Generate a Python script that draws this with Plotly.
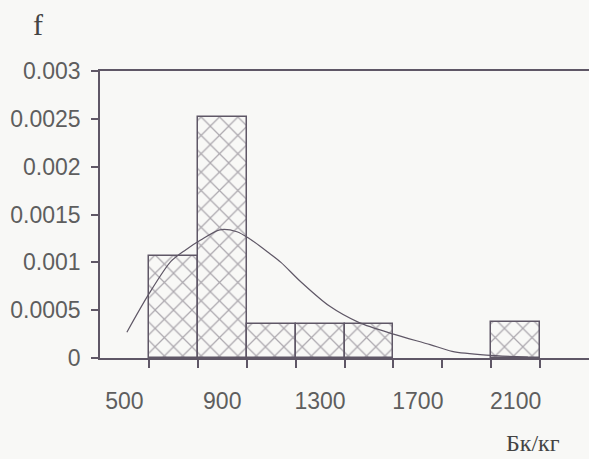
import plotly.graph_objects as go

# Histogram bins (Bq/kg, bin centres) and frequency density
bin_centers = [700, 900, 1100, 1300, 1500, 2100]
bin_values = [0.00107, 0.00252, 0.00036, 0.00036, 0.00036, 0.00038]

# Fitted density curve
curve_x = [510, 600, 690, 750, 810, 890, 960, 1010, 1090, 1140, 1220, 1340,
           1460, 1600, 1750, 1840, 1980, 2150]
curve_y = [0.00027, 0.00067, 0.00101, 0.00113, 0.00123, 0.00134, 0.00132,
           0.00125, 0.00110, 0.00100, 0.00080, 0.00054, 0.00037, 0.00025,
           0.00014, 0.00007, 0.00003, 0.00001]

x_tick_vals = [500, 900, 1300, 1700, 2100]
x_tick_text = ["500", "900", "1300", "1700", "2100"]
x_minor_ticks = [600, 800, 1000, 1200, 1400, 1600, 1800, 2000, 2200]
y_tick_vals = [0, 0.0005, 0.001, 0.0015, 0.002, 0.0025, 0.003]
y_tick_text = ["0", "0.0005", "0.001", "0.0015", "0.002", "0.0025", "0.003"]

LINE = "#5f5766"
TXT = "#5e5e5e"
BG = "#f8f8f6"

fig = go.Figure()
fig.add_trace(go.Bar(
    x=bin_centers, y=bin_values, width=200,
    marker=dict(color=BG, line=dict(color=LINE, width=1.5),
                pattern=dict(shape="x", size=13, solidity=0.18,
                             fgcolor=LINE, bgcolor=BG)),
    showlegend=False, hoverinfo="skip"))
fig.add_trace(go.Scatter(
    x=curve_x, y=curve_y, mode="lines",
    line=dict(color=LINE, width=1.2, shape="spline", smoothing=0.8),
    showlegend=False, hoverinfo="skip"))

L, R, T, B = 100, 0, 71, 101
fig.update_layout(
    width=589, height=459,
    margin=dict(l=L, r=R, t=T, b=B, autoexpand=False),
    paper_bgcolor=BG, plot_bgcolor=BG,
    bargap=0,
    font=dict(family="Liberation Sans", size=23, color=TXT),
    xaxis=dict(range=[400, 2400], showgrid=False, zeroline=False, automargin=False,
               showline=True, linecolor=LINE, linewidth=1.5, mirror=True,
               tickvals=x_tick_vals, ticktext=x_tick_text, ticks="",
               ticklabelstandoff=22,
               minor=dict(tickvals=x_minor_ticks, ticks="outside",
                          ticklen=8, tickcolor=LINE, tickwidth=1.5)),
    yaxis=dict(range=[0, 0.003], showgrid=False, zeroline=False, automargin=False,
               showline=True, linecolor=LINE, linewidth=1.5,
               tickvals=y_tick_vals, ticktext=y_tick_text,
               ticks="outside", ticklen=7, tickcolor=LINE, tickwidth=1.5,
               ticklabelstandoff=6),
)

pw, ph = 589 - L - R, 459 - T - B
def px2paper(px, py):
    return (px - L) / pw, 1 - (py - T) / ph

fx, fy = px2paper(38, 25)
ux, uy = px2paper(533, 443)
fig.add_annotation(text="f", x=fx, y=fy, xref="paper", yref="paper",
                   showarrow=False, xanchor="center", yanchor="middle",
                   font=dict(family="Liberation Serif", size=30, color="#444"))
fig.add_annotation(text="Бк/кг", x=ux, y=uy, xref="paper", yref="paper",
                   showarrow=False, xanchor="center", yanchor="middle",
                   font=dict(family="Liberation Serif", size=24, color="#444"))

fig.write_html("out.html", config={"displayModeBar": False},
               post_script="document.body.style.margin='0px';document.body.style.overflow='hidden';document.body.style.background='%s';" % BG)
